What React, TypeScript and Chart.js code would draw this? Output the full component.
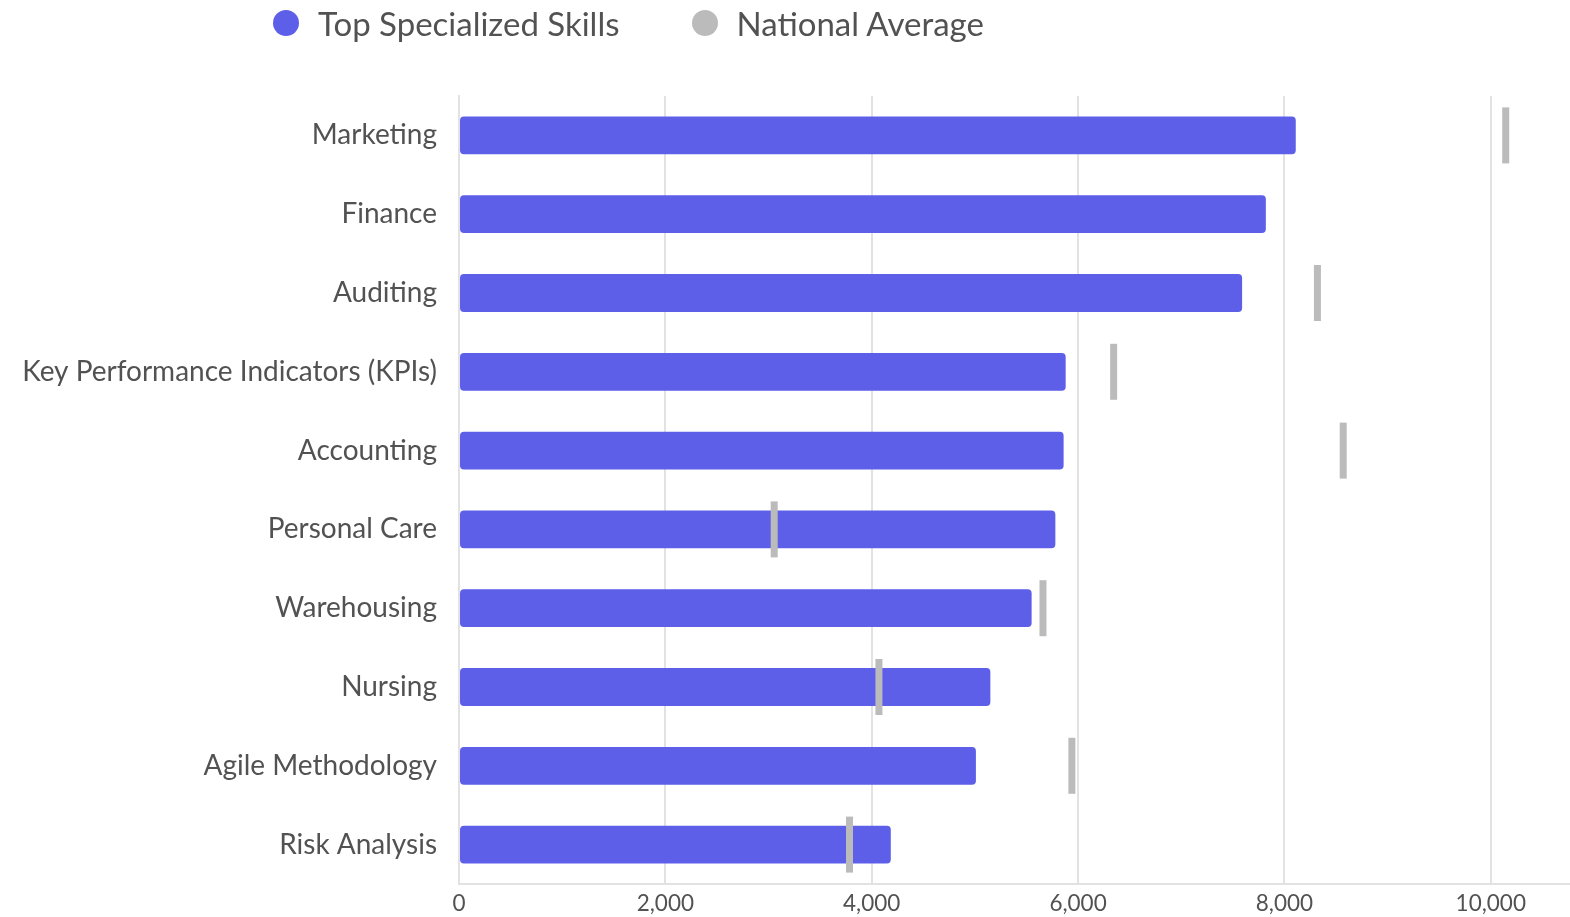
import React, { useEffect, useRef } from "react";
import { Chart, registerables } from "chart.js";

Chart.register(...registerables);

const categories = [
  "Marketing",
  "Finance",
  "Auditing",
  "Key Performance Indicators (KPIs)",
  "Accounting",
  "Personal Care",
  "Warehousing",
  "Nursing",
  "Agile Methodology",
  "Risk Analysis",
];

const topSkills = [8110, 7820, 7590, 5880, 5860, 5780, 5550, 5150, 5010, 4185];
const nationalAverage = [10145, 11300, 8320, 6345, 8570, 3055, 5660, 4070, 5940, 3785];

const xTicks = [0, 2000, 4000, 6000, 8000, 10000];
const xMax = 10768;

const seriesNames = ["Top Specialized Skills", "National Average"];
const barColor = "#5d5fe8";
const markerColor = "#bbbbbb";
const textColor = "#525252";
const fontFamily = "Lato, 'Noto Sans', sans-serif";

export default function App() {
  const canvasRef = useRef<HTMLCanvasElement | null>(null);

  useEffect(() => {
    document.body.style.margin = "0";
    document.documentElement.style.overflow = "hidden";
    const canvas = canvasRef.current;
    if (!canvas) return;
    const chart = new Chart(canvas, {
      type: "bar",
      data: {
        labels: categories,
        datasets: [
          {
            type: "line",
            label: seriesNames[1],
            data: nationalAverage,
            indexAxis: "y",
            showLine: false,
            pointStyle: "line",
            rotation: 90,
            radius: 28,
            hoverRadius: 28,
            borderWidth: 7,
            pointBorderWidth: 7,
            borderColor: markerColor,
            backgroundColor: markerColor,
            pointBorderColor: markerColor,
            order: 0,
          } as any,
          {
            type: "bar",
            label: seriesNames[0],
            data: topSkills,
            backgroundColor: barColor,
            borderRadius: 4,
            borderSkipped: false,
            categoryPercentage: 0.8,
            barPercentage: 0.6,
            order: 1,
          },
        ],
      },
      options: {
        indexAxis: "y",
        animation: false,
        responsive: false,
        devicePixelRatio: 1,
        layout: { autoPadding: false, padding: { top: 96, right: 0, bottom: 0, left: 0 } },
        plugins: {
          legend: { display: false },
          tooltip: { enabled: false },
        },
        scales: {
          x: {
            min: 0,
            max: xMax,
            afterBuildTicks: (scale: any) => {
              scale.ticks = xTicks.map((v) => ({ value: v }));
            },
            afterFit: (scale: any) => {
              scale.height = 33;
              scale.paddingRight = 0;
              scale.paddingLeft = 0;
            },
            ticks: {
              color: textColor,
              font: { family: fontFamily, size: 22.5 },
              padding: 6,
              callback: (v: any) => Number(v).toLocaleString("en-US"),
            },
            grid: { color: "#e2e2e2", lineWidth: 2, drawTicks: false },
            border: { display: true, color: "#e2e2e2", width: 2 },
          },
          y: {
            afterFit: (scale: any) => {
              scale.width = 459;
              scale.paddingTop = 0;
              scale.paddingBottom = 0;
            },
            ticks: {
              color: textColor,
              font: { family: fontFamily, size: 28 },
              padding: 22,
            },
            grid: { display: false, drawTicks: false },
            border: { display: true, color: "#e2e2e2", width: 2 },
          },
        },
      },
    });
    return () => chart.destroy();
  }, []);

  const legendItems = [
    { label: seriesNames[0], color: barColor },
    { label: seriesNames[1], color: markerColor },
  ];

  return (
    <div style={{ position: "absolute", left: 0, top: 0, width: 1570, height: 917, overflow: "hidden" }}>
      <canvas ref={canvasRef} width={1570} height={917} style={{ display: "block", width: 1570, height: 917 }} />
      <div
        style={{
          position: "absolute",
          left: 273,
          top: 3,
          display: "flex",
          alignItems: "center",
          gap: 72,
          fontFamily,
          fontSize: 33,
          color: textColor,
          lineHeight: "40px",
        }}
      >
        {legendItems.map((it) => (
          <div key={it.label} style={{ display: "flex", alignItems: "center" }}>
            <span
              style={{
                display: "inline-block",
                width: 26,
                height: 26,
                borderRadius: "50%",
                background: it.color,
                marginRight: 19,
              }}
            />
            <span>{it.label}</span>
          </div>
        ))}
      </div>
    </div>
  );
}
